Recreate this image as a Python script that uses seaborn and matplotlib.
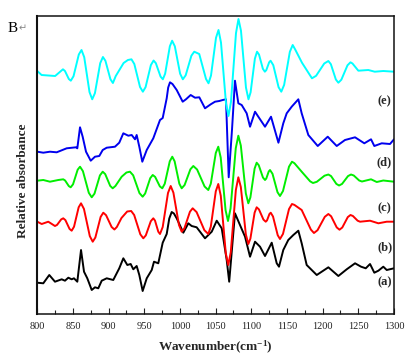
import numpy as np
import pandas as pd
import seaborn as sns
import matplotlib.pyplot as plt
from matplotlib.ticker import MultipleLocator

plt.switch_backend('Agg')

# Spectra: (wavenumber cm-1, relative absorbance with offset)
spec_a = [(800, 30.8), (808.4, 30.2), (816.8, 38.5), (824.8, 31.8), (834.2, 34.2), (838.8, 32.8),
          (843.5, 35.8), (848.2, 34.2), (851.4, 35.2), (856.1, 31.8), (861.3, 63.5), (865.5, 41.8),
          (870.1, 35.2), (876.3, 23.5), (880.9, 26.2), (885.5, 25.2), (890.3, 32.8), (897.3, 35.2),
          (906.5, 33.5), (914.9, 45.2), (920.6, 55.2), (926.2, 48.5), (930.9, 49.5), (934.6, 44.2),
          (939.3, 47.5), (943, 38.5), (947.7, 22.5), (953.4, 35.2), (960.4, 43.5), (963.6, 51.8),
          (969.6, 50.2), (975.8, 70.8), (981.4, 79.5), (985, 95), (988.4, 101.5), (991.5, 100),
          (995.4, 95.2), (1004.7, 80.8), (1011.7, 90.2), (1016.4, 87.5), (1023.4, 86.2), (1035.1, 75.2),
          (1044.5, 81.8), (1051.5, 92.8), (1058.5, 85.2), (1065.5, 53.5), (1069, 31.8), (1077.1, 100.2),
          (1084.1, 88.5), (1091.2, 76.8), (1098.2, 56.8), (1105.2, 71.8), (1112.2, 66.8), (1119.2, 57.5),
          (1128.6, 70.8), (1135.6, 50.2), (1138.8, 46.8), (1144.8, 63.5), (1151.8, 73.5), (1158.9, 78.5),
          (1165.9, 82.8), (1170.6, 70.2), (1177.6, 48.5), (1191.7, 38.5), (1208, 46.2), (1222, 37.5),
          (1233.7, 44.2), (1245.4, 50.2), (1253.8, 46.8), (1260.4, 45.2), (1266.4, 49.5), (1272.4, 40.8),
          (1278.1, 42.8), (1285, 46.8), (1289.8, 43.5), (1300, 45.2)]

spec_b = [(800, 91.8), (806.2, 89.5), (815.4, 91.8), (824.8, 87.5), (827.7, 88.6), (833.5, 94.1),
          (836.4, 95.2), (839.4, 93.4), (845.2, 84.6), (848.2, 82.8), (851.5, 86.8), (858.0, 106.2),
          (861.3, 110.2), (865.4, 104.6), (873.6, 77.4), (877.7, 71.8), (881.4, 76.0), (888.8, 96.6),
          (892.5, 100.8), (896.4, 98.3), (904.2, 86.5), (908.1, 84), (911.5, 86.5), (918, 95.5),
          (926, 102), (931.6, 102.5), (935.8, 98.5), (944.4, 79.2), (948.6, 75.2), (952.1, 78.1),
          (959.1, 92.3), (962.6, 95.2), (965, 92.9), (969.6, 81.8), (972, 79.5), (975.8, 86.5),
          (983.2, 120.5), (987, 127.5), (990.8, 120.8), (998.6, 88.5), (1002.4, 81.8), (1006.2, 85.2),
          (1014, 101.8), (1017.8, 105.2), (1023.3, 101.4), (1034.2, 83.3), (1039.7, 79.5), (1043.2, 86.8),
          (1050.2, 122.2), (1053.7, 129.5), (1057.2, 117.7), (1064.2, 60.3), (1067.7, 48.5), (1071.2, 61.3),
          (1078.3, 123.4), (1081.8, 136.2), (1085.3, 126.5), (1092.3, 79.2), (1095.8, 69.5), (1098.7, 74.9),
          (1104.6, 100.8), (1107.5, 106.2), (1110.7, 104.1), (1117, 93.9), (1120.2, 91.8), (1122, 93.1),
          (1125.4, 99.5), (1127.2, 100.8), (1130.4, 97.0), (1137, 78.3), (1140.2, 74.5), (1144.4, 79.6),
          (1152.8, 104.4), (1157, 109.5), (1160.4, 108.6), (1170.6, 103.5), (1183.5, 83.9), (1187.8, 80.5),
          (1192.8, 83.3), (1203, 96.7), (1208, 99.5), (1211.9, 97.2), (1219.7, 86.1), (1223.6, 83.8),
          (1227.5, 86.0), (1235.2, 96.4), (1239, 98.5), (1242.4, 97.5), (1249, 92.8), (1252.4, 91.8),
          (1266.4, 92.8), (1278.1, 90.2), (1289.8, 91.8), (1300, 91.8)]

spec_c = [(800, 132.8), (808.4, 133.5), (817.8, 131.8), (829.4, 133.5), (836.4, 134.2), (839, 133.0),
          (844.2, 127.4), (846.8, 126.2), (850.1, 129.2), (856.6, 143.8), (859.9, 146.8), (864, 142.3),
          (872.2, 120.7), (876.3, 116.2), (880.2, 119.9), (887.8, 138.1), (891.7, 141.8), (895.2, 139.4),
          (902.2, 127.6), (905.7, 125.2), (909.5, 127.5), (918.3, 136.8), (925, 141), (929.9, 141.8),
          (934.4, 138.2), (943.2, 120.4), (947.7, 116.8), (951.2, 120.0), (958.3, 135.3), (961.8, 138.5),
          (965.2, 136.6), (971.8, 127.1), (975.2, 125.2), (978.7, 129.8), (985.7, 152.2), (989.2, 156.8),
          (992.5, 152.2), (999.1, 129.8), (1002.4, 125.2), (1006.5, 128.5), (1014.6, 144.2), (1018.7, 147.5),
          (1024, 144.0), (1034.5, 127.0), (1039.7, 123.5), (1043.2, 129.8), (1050.2, 160.5), (1053.7, 166.8),
          (1057.1, 156.0), (1063.9, 103.3), (1067.3, 92.5), (1070.9, 105.0), (1078.2, 165.3), (1081.8, 177.8),
          (1085.3, 167.9), (1092.3, 120.1), (1095.8, 110.2), (1098.7, 116.1), (1104.6, 144.9), (1107.5, 150.8),
          (1110.4, 148.3), (1116.3, 136.0), (1119.2, 133.5), (1121, 135.0), (1124.4, 142.0), (1126.2, 143.5),
          (1129.7, 139.7), (1136.7, 121.3), (1140.2, 117.5), (1144.4, 122.5), (1152.8, 146.8), (1157, 151.8),
          (1160.4, 150.3), (1170.6, 141.8), (1182.4, 132.2), (1186.4, 130.5), (1191.8, 131.7), (1202.6, 137.8),
          (1208, 139), (1211.8, 137.4), (1219.2, 129.6), (1223, 128), (1227.2, 129.6), (1235.5, 137.4),
          (1239.7, 139), (1243.6, 138.0), (1251.2, 133.0), (1255.1, 132), (1267.8, 134.2), (1275.8, 131.5),
          (1285, 133), (1300, 131.8)]

spec_d = [(800, 161.8), (808.4, 160.8), (817.8, 161.8), (827.2, 161.2), (841.2, 165.2), (854.2, 166.2),
          (856.1, 165.2), (859.9, 186.2), (863.6, 176.8), (868.3, 161.8), (874.9, 152.8), (880.9, 156.8),
          (886.9, 157.5), (891.7, 163.5), (897.3, 165.8), (908.9, 166.8), (914.9, 170.8), (920.6, 180.2),
          (927.6, 177.8), (932.3, 178.5), (937, 174.2), (939.3, 178.5), (943, 166.8), (947.2, 151.8),
          (953.4, 163.5), (962.6, 175.2), (972, 193.5), (975.8, 195.5), (981.4, 215.2), (983.5, 226),
          (986, 231.2), (989.5, 229.5), (995.4, 223.5), (1003.8, 211.8), (1008.4, 214.2), (1015, 218.5),
          (1021.1, 215.8), (1027.1, 216.2), (1035.1, 205.2), (1043.1, 209.2), (1049.1, 211.8), (1055.1, 212.5),
          (1059.9, 213.5), (1064.5, 214.2), (1068.3, 136.2), (1072.9, 183.5), (1077.1, 232.8), (1081.8, 210.2),
          (1086.5, 208.5), (1093.5, 200.2), (1098.2, 186.8), (1105.2, 201.8), (1109.8, 196.8), (1119.2, 186.8),
          (1127.6, 196.8), (1138, 170.8), (1144.8, 190.2), (1149.6, 200.2), (1156.6, 206.8), (1165.9, 214.2),
          (1170.6, 200.2), (1179.9, 178.5), (1193.1, 167.5), (1207.1, 176.8), (1219.7, 167.5), (1231.3, 173.5),
          (1245.4, 176.2), (1258.4, 170.2), (1267.8, 174.2), (1272.4, 167.5), (1282.8, 170.2), (1294.4, 169.5),
          (1300, 174.2)]

spec_e = [(800, 242.5), (806, 238.5), (825, 237.5), (836, 244.2), (838.8, 242.5), (844.2, 234.5),
          (847, 232.8), (850.8, 237.3), (858.2, 259.0), (862, 263.5), (865.8, 256.3), (873.2, 221.4),
          (877, 214.2), (880.8, 220.4), (888.2, 250.3), (892, 256.5), (895.5, 252.7), (902.5, 234.3),
          (906, 230.5), (910, 237.5), (921, 250.5), (927, 253.5), (932, 254.2), (936, 249.5),
          (944, 226.5), (948, 221.8), (951.8, 226.4), (959.2, 248.4), (963, 253), (966.2, 250.3),
          (972.8, 236.9), (976, 234.2), (979.2, 239.8), (985.8, 267.2), (989, 272.8), (992.8, 267.2),
          (1000.2, 239.8), (1004, 234.2), (1008, 238.2), (1016, 257.8), (1020, 261.8), (1027, 259.5),
          (1036.5, 234.5), (1040, 230.2), (1043.5, 238.0), (1050.5, 275.7), (1054, 283.5), (1057.5, 270.9),
          (1064.5, 210.1), (1068, 197.5), (1071.5, 211.7), (1078.5, 280.3), (1082, 294.5), (1085.5, 282.8),
          (1092.5, 225.9), (1096, 214.2), (1099, 221.2), (1105, 254.9), (1108, 261.8), (1110.8, 258.9),
          (1116.2, 244.7), (1119, 241.8), (1121, 243.4), (1125, 251.2), (1127, 252.8), (1130.8, 248.3),
          (1138.2, 226.3), (1142, 221.8), (1146, 228.6), (1154, 261.7), (1158, 268.5), (1161.5, 264),
          (1171, 250.8), (1185, 235.2), (1190.8, 237.7), (1202.2, 250.0), (1208, 252.5), (1211.5, 249.3),
          (1218.5, 234.0), (1222, 230.8), (1226.2, 233.8), (1234.8, 248.2), (1239, 251.2), (1241.8, 250.0),
          (1250, 242.8), (1264, 243.5), (1273, 241.8), (1285, 242.5), (1300, 241.8)]

labels = ['(a)', '(b)', '(c)', '(d)', '(e)']
colors = ['#000000', '#ff0000', '#00ee00', '#0000ee', '#00ffff']
label_x = [1287, 1287, 1286, 1286, 1286]
label_y = [30.8, 66.2, 105.2, 151.2, 211.8]

sns.set_style('white')
plt.rcParams['font.family'] = ['Liberation Serif', 'DejaVu Serif']
plt.rcParams['mathtext.default'] = 'regular'

fig = plt.figure(figsize=(4.18, 3.58), dpi=100)
ax = fig.add_axes([0.0892, 0.1243, 0.8534, 0.8310])

for spec, lab, col in zip([spec_a, spec_b, spec_c, spec_d, spec_e], labels, colors):
    df = pd.DataFrame(spec, columns=['wavenumber', 'absorbance'])
    sns.lineplot(data=df, x='wavenumber', y='absorbance', ax=ax, color=col,
                 linewidth=1.4, estimator=None, sort=False)

for lab, lx, ly in zip(labels, label_x, label_y):
    ax.text(lx, ly, lab, ha='center', va='center', fontsize=9, fontweight='bold')

ax.set_xlim(800, 1300)
ax.set_ylim(0, 297.5)
ax.xaxis.set_major_locator(MultipleLocator(50))
ax.xaxis.set_minor_locator(MultipleLocator(25))
ax.tick_params(axis='x', which='both', direction='in', bottom=True, width=0.8,
               labelsize=7.5, pad=6, colors='#222222')
ax.tick_params(axis='x', which='major', length=4)
ax.tick_params(axis='x', which='minor', length=3)
ax.set_yticks([])

for side in ['top', 'right', 'bottom']:
    ax.spines[side].set_linewidth(1.1)
    ax.spines[side].set_color('#111111')
ax.spines['left'].set_linewidth(1.5)
ax.spines['left'].set_color('#111111')

ax.set_xlabel('Wavenumber(cm$^{-1}$)', fontsize=9.5, fontweight='bold', labelpad=6)
ax.set_ylabel('Relative absorbance', fontsize=9.5, fontweight='bold')
ax.yaxis.set_label_coords(-0.022, 0.445)

fig.text(8 / 418, 1 - 32 / 358, 'B', fontsize=11, color='black')
fig.text(18.5 / 418, 1 - 31 / 358, '\u21b5', fontsize=7, color='#888888',
         family=['DejaVu Sans'])

fig.savefig('out.png', dpi=100)
